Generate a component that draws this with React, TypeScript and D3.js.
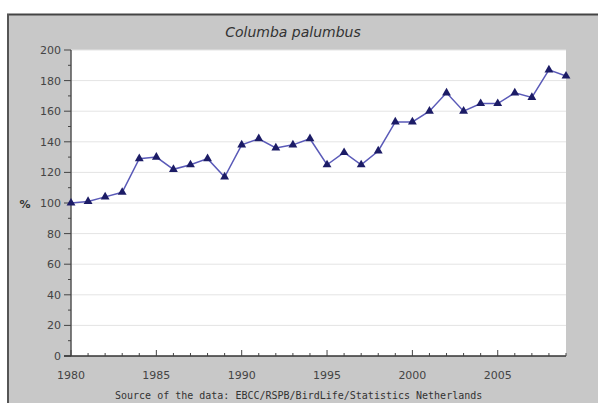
import React from "react";
import * as d3 from "d3";

const years = [1980,1981,1982,1983,1984,1985,1986,1987,1988,1989,1990,1991,1992,1993,1994,1995,1996,1997,1998,1999,2000,2001,2002,2003,2004,2005,2006,2007,2008,2009];
const values = [100,101,104,107,129,130,122,125,129,117,138,142,136,138,142,125,133,125,134,153,153,160,172,160,165,165,172,169,187,183];
const yTicks = [0,20,40,60,80,100,120,140,160,180,200];
const xTickLabels = [1980,1985,1990,1995,2000,2005];
const title = "Columba palumbus";
const yLabel = "%";
const source = "Source of the data: EBCC/RSPB/BirdLife/Statistics Netherlands";

export default function App() {
  const W = 598, H = 403;
  const left = 71, right = 566, top = 50, bottom = 356;
  const x = d3.scaleLinear().domain([1980, 2009]).range([left, right]);
  const y = d3.scaleLinear().domain([0, 200]).range([bottom, top]);
  const line = d3.line<number>().x((_, i) => x(years[i])).y((d) => y(d));
  const tri = d3.symbol().type(d3.symbolTriangle).size(34)();
  const minorY = d3.range(0, 201, 10);
  return (
    <svg width={W} height={H} style={{ position: "absolute", left: 0, top: 0 }}>
      <rect x={0} y={0} width={W} height={H} fill="#ffffff" />
      <rect x={7} y={14} width={W - 7} height={H - 14} fill="#c8c8c8" />
      <line x1={7} y1={14.5} x2={W} y2={14.5} stroke="#444" strokeWidth={2} />
      <line x1={8} y1={14} x2={8} y2={H} stroke="#555" strokeWidth={2} />
      <rect x={left} y={top} width={right - left} height={bottom - top} fill="#ffffff" />
      {yTicks.filter((t) => t > 0).map((t) => (
        <line key={"g" + t} x1={left} x2={right} y1={y(t)} y2={y(t)} stroke="#e4e4e4" strokeWidth={1} />
      ))}
      <text x={293} y={37} textAnchor="middle" fontFamily="DejaVu Sans" fontStyle="italic" fontSize={14} fill="#333">{title}</text>
      {/* y axis */}
      <line x1={left} x2={left} y1={top} y2={bottom} stroke="#555" strokeWidth={1.5} />
      {minorY.map((t) => (
        <line key={"my" + t} x1={left - (t % 20 === 0 ? 7 : 3)} x2={left} y1={y(t)} y2={y(t)} stroke="#444" strokeWidth={1} />
      ))}
      {yTicks.map((t) => (
        <text key={"yl" + t} x={left - 10} y={y(t) + 4} textAnchor="end" fontFamily="DejaVu Sans" fontSize={11} fill="#444">{t}</text>
      ))}
      <text x={25} y={208} textAnchor="middle" fontFamily="DejaVu Sans" fontWeight="bold" fontSize={11} fill="#333">{yLabel}</text>
      {/* x axis */}
      <line x1={left - 7} x2={right} y1={bottom} y2={bottom} stroke="#333" strokeWidth={1.5} />
      {years.map((yr) => (
        <line key={"xt" + yr} x1={x(yr)} x2={x(yr)} y1={bottom} y2={bottom - (yr % 5 === 0 ? 6 : 3)} stroke="#444" strokeWidth={1} />
      ))}
      {xTickLabels.map((yr) => (
        <text key={"xl" + yr} x={x(yr)} y={379} textAnchor="middle" fontFamily="DejaVu Sans" fontSize={11} fill="#444">{yr}</text>
      ))}
      <path d={line(values) || ""} fill="none" stroke="#5a5ab8" strokeWidth={1.5} />
      {values.map((v, i) => (
        <path key={"m" + i} d={tri || ""} transform={`translate(${x(years[i])},${y(v)})`} fill="#1c1c66" />
      ))}
      <text x={115} y={399} fontFamily="DejaVu Sans Mono" fontSize={10} fill="#333">{source}</text>
    </svg>
  );
}
